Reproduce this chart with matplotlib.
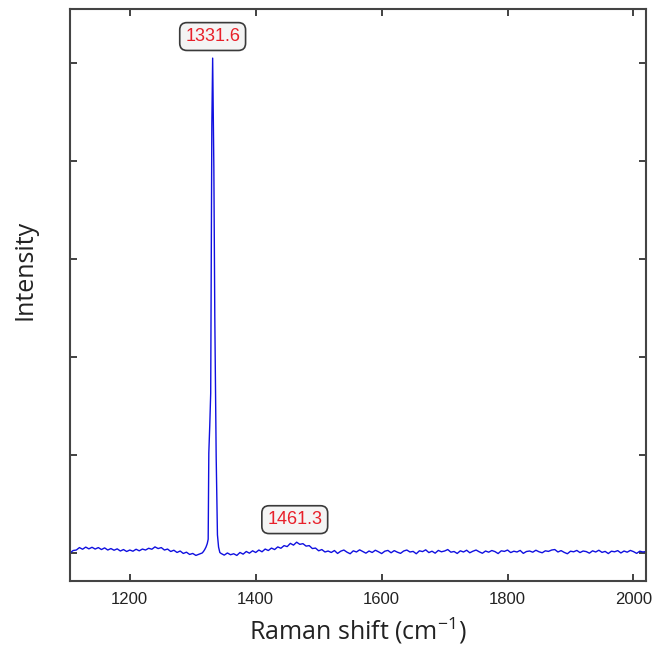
import numpy as np
import matplotlib
matplotlib.use("Agg")
import matplotlib.pyplot as plt

# Raman spectrum (arbitrary intensity units, baseline ~ 0)
# left baseline: 1105 .. 1315 cm-1, every 5 cm-1
left_start, left_step = 1105, 5
left_y = [0, 25, 30, 55, 38, 60, 42, 58, 40, 55, 35, 52, 30, 45, 28, 42, 20, 35, 15, 30,
          18, 38, 22, 40, 30, 48, 38, 62, 45, 55, 30, 40, 15, 28, 5, 20, -5, 8, -15, -5,
          -25, -12, 0]

# diamond line around 1331.6 cm-1
peak_x = [1317, 1319, 1321, 1323, 1324.5, 1325.5, 1327, 1328.5, 1330.3, 1331.6,
          1333.5, 1335, 1337.2, 1339.2, 1341, 1343]
peak_y = [15, 35, 60, 95, 140, 1020, 1300, 1630, 4370, 5050,
          3940, 2410, 980, 185, 60, 5]

# right baseline with broad band near 1461 cm-1: 1345 .. 2020 cm-1, every 5 cm-1
right_start, right_step = 1345, 5
right_y = [-5, -22, 0, -18, -8, -25, 5, -12, 15, -2, 22, 5, 30, 12, 40, 25, 50, 35, 62, 48,
           75, 65, 98, 80, 110, 88, 95, 70, 75, 45, 50, 22, 35, 10, 20,
           5, 25, -5, 18, 30, 8, -8, 22, 10, 32,
           15, -2, 20, 5, 28, 12, -6, 18, 26, 2,
           24, 8, -4, 20, 30, 10, 16, -8, 22, 14,
           32, 4, 18, -2, 26, 12, 20, 35, 8, 15,
           -5, 22, 10, 28, 2, 18, 30, 12, -3, 20,
           8, 25, 14, -6, 22, 16, 30, 4, 18, 10,
           26, -4, 15, 20, 8, 28, 12, 2, 22, 16,
           30, 35, 10, 24, 6, -8, 18, 12, 26, 4,
           20, 14, -2, 22, 10, 28, 6, 16, -6, 18,
           12, 24, 0, 20, 8, 26, 14, -4, 18, 10,
           15]

peak_labels = ["1331.6", "1461.3"]
label_x = [1331.6, 1462]
label_y = [5270, 340]

x_ticks = [1200, 1400, 1600, 1800, 2000]
y_ticks = [0, 1000, 2000, 3000, 4000, 5000]

left_x = left_start + left_step * np.arange(len(left_y))
right_x = right_start + right_step * np.arange(len(right_y))
x = np.concatenate([left_x, peak_x, right_x])
y = np.concatenate([left_y, peak_y, right_y])

plt.rcParams['mathtext.fontset'] = 'custom'
plt.rcParams['mathtext.rm'] = 'Open Sans'

fig = plt.figure(figsize=(6.64, 6.48), dpi=100)
ax = fig.add_axes([0.1054, 0.1034, 0.8676, 0.8827])

ax.plot(x, y, color='#1010e0', lw=1.0)

for txt, lx, ly in zip(peak_labels, label_x, label_y):
    ax.text(lx, ly, txt, color='#e8202a', fontsize=13, family='Liberation Sans',
            ha='center', va='center',
            bbox=dict(boxstyle='round,pad=0.3,rounding_size=0.4', fc='#f4f4f4', ec='#3a3a3a', lw=1.2))

ax.set_xlim(1105, 2020)
ax.set_ylim(-286, 5551)
ax.set_xticks(x_ticks)
ax.set_yticks(y_ticks)
ax.set_yticklabels([])
ax.tick_params(direction='in', top=True, right=True, length=5, width=1.3,
               color='#333333', labelsize=12, labelcolor='#222222', pad=8)
for lab in ax.get_xticklabels():
    lab.set_family('Liberation Sans')
for sp in ax.spines.values():
    sp.set_color('#444444')
    sp.set_linewidth(1.5)

ax.set_xlabel(r'Raman shift (cm$^{\mathrm{-1}}$)', fontsize=18, family='Open Sans',
              color='#222222', labelpad=6)
ax.set_ylabel('Intensity', fontsize=18, family='Open Sans', color='#222222')
ax.yaxis.set_label_coords(-0.057, 0.544)

fig.savefig('out.png', dpi=100)
